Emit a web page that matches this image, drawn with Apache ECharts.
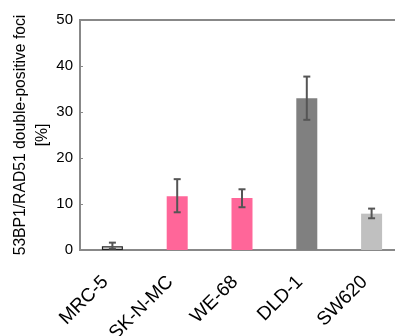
<!DOCTYPE html>
<html><head><meta charset="utf-8">
<script src="https://cdn.jsdelivr.net/npm/echarts@6/dist/echarts.min.js"></script>
<style>html,body{margin:0;padding:0;background:#fff;overflow:hidden;width:395px;height:336px}#c{width:404px;height:336px}</style>
</head><body><div id="c"></div>
<script>
var categories = ['MRC-5', 'SK-N-MC', 'WE-68', 'DLD-1', 'SW620'];
var means = [0.8, 11.7, 11.3, 33.0, 7.9];
var errLow = [0.3, 8.2, 9.3, 28.3, 6.9];
var errHigh = [1.6, 15.4, 13.2, 37.7, 9.0];
var yTicks = [0, 10, 20, 30, 40, 50];
var barColors = ['#ffffff', '#ff6699', '#ff6699', '#808080', '#c0c0c0'];
var barBorders = ['#222222', '#ff6699', '#ff6699', '#808080', '#c0c0c0'];

var chart = echarts.init(document.getElementById('c'), null, {renderer: 'canvas'});
var font = 'Liberation Sans, Arial, sans-serif';
chart.setOption({
  animation: false,
  grid: {left: 80, right: 0, top: 20, bottom: 86, show: true, borderColor: '#888', borderWidth: 2,
         containLabel: false, outerBoundsMode: 'none'},
  xAxis: {
    type: 'category', data: categories,
    axisLine: {show: true, lineStyle: {color: '#888', width: 2}},
    axisTick: {show: false},
    axisLabel: {rotate: 45, margin: 22, padding: [0, 10, 0, 0], color: '#000', fontSize: 19, fontFamily: font}
  },
  yAxis: {
    type: 'value', min: 0, max: 50, interval: 10,
    name: '53BP1/RAD51 double-positive foci\n[%]',
    nameLocation: 'middle', nameRotate: 90, nameGap: 26, nameMoveOverlap: false,
    nameTextStyle: {color: '#000', fontSize: 15.7, fontFamily: font, lineHeight: 22},
    axisLine: {show: true, lineStyle: {color: '#888', width: 2}},
    axisTick: {show: true, inside: true, length: 3, lineStyle: {color: '#888'}},
    splitLine: {show: false},
    axisLabel: {color: '#000', fontSize: 15, fontFamily: font, margin: 7,
      formatter: function (v) { return yTicks.indexOf(v) >= 0 ? String(v) : ''; }}
  },
  series: [{
    type: 'bar', barWidth: 21,
    data: means.map(function (v, i) {
      return {value: v, itemStyle: {color: barColors[i], borderColor: barBorders[i], borderWidth: i === 0 ? 1.2 : 0}};
    })
  }, {
    type: 'custom',
    data: categories.map(function (c, i) { return [i, errLow[i], errHigh[i]]; }),
    renderItem: function (params, api) {
      var lo = api.coord([api.value(0), api.value(1)]);
      var hi = api.coord([api.value(0), api.value(2)]);
      var x = lo[0], hw = 3.5;
      var st = {stroke: '#555', lineWidth: 2};
      return {type: 'group', children: [
        {type: 'line', shape: {x1: x, y1: lo[1], x2: x, y2: hi[1]}, style: st},
        {type: 'line', shape: {x1: x - hw, y1: lo[1], x2: x + hw, y2: lo[1]}, style: st},
        {type: 'line', shape: {x1: x - hw, y1: hi[1], x2: x + hw, y2: hi[1]}, style: st}
      ]};
    },
    z: 10
  }]
});
</script></body></html>
